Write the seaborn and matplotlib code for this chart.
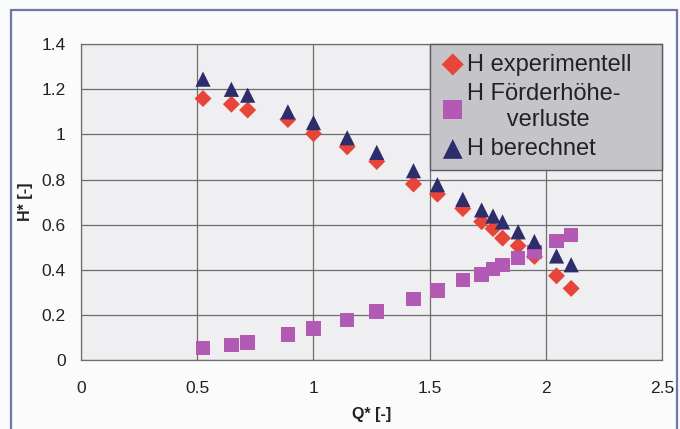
import numpy as np
import pandas as pd
import matplotlib
matplotlib.use("Agg")
import matplotlib.pyplot as plt
import seaborn as sns
from matplotlib.patches import Rectangle

# Messpunkte
q_stern = [0.525, 0.647, 0.717, 0.89, 1.0, 1.145, 1.272, 1.43, 1.533,
           1.642, 1.723, 1.772, 1.813, 1.88, 1.95, 2.045, 2.108]
h_experimentell = [1.159, 1.134, 1.108, 1.066, 1.003, 0.945, 0.88, 0.78, 0.735,
                   0.671, 0.613, 0.582, 0.54, 0.506, 0.459, 0.373, 0.317]
h_verluste = [0.052, 0.066, 0.078, 0.112, 0.14, 0.178, 0.215, 0.27, 0.307,
              0.354, 0.38, 0.403, 0.42, 0.451, 0.479, 0.527, 0.553]
h_berechnet = [1.245, 1.20, 1.174, 1.10, 1.052, 0.985, 0.92, 0.839, 0.777,
               0.712, 0.665, 0.638, 0.612, 0.568, 0.525, 0.461, 0.422]

x_ticks = [0, 0.5, 1, 1.5, 2, 2.5]
y_ticks = [0, 0.2, 0.4, 0.6, 0.8, 1, 1.2, 1.4]
x_ticklabels = ["0", "0.5", "1", "1.5", "2", "2.5"]
y_ticklabels = ["0", "0.2", "0.4", "0.6", "0.8", "1", "1.2", "1.4"]

sns.set_theme(style="white")
plt.rcParams["font.family"] = ["Liberation Sans", "DejaVu Sans"]

fig = plt.figure(figsize=(6.8, 4.29), dpi=100, facecolor="#fbfbfb")
ax = fig.add_axes([0.119, 0.161, 0.855, 0.736])
ax.set_facecolor("#efeff2")

df = pd.DataFrame({"Q": q_stern, "exp": h_experimentell,
                   "verl": h_verluste, "ber": h_berechnet})

sns.scatterplot(data=df, x="Q", y="exp", ax=ax, marker="D", s=75,
                color="#e8453a", edgecolor="none", label="H experimentell", zorder=3)
sns.scatterplot(data=df, x="Q", y="verl", ax=ax, marker="s", s=110,
                color="#b35ab5", edgecolor="none", label="H Förderhöhe-\n      verluste", zorder=3)
sns.scatterplot(data=df, x="Q", y="ber", ax=ax, marker="^", s=120,
                color="#2c2d6a", edgecolor="none", label="H berechnet", zorder=4)

ax.set_xlim(0, 2.5)
ax.set_ylim(0, 1.4)
ax.set_xticks(x_ticks)
ax.set_xticklabels(x_ticklabels)
ax.set_yticks(y_ticks)
ax.set_yticklabels(y_ticklabels)
ax.grid(True, color="#6e6e6e", linewidth=0.9)
ax.set_axisbelow(True)
for sp in ax.spines.values():
    sp.set_color("#6e6e6e")
    sp.set_linewidth(0.9)
ax.tick_params(axis="both", which="both", direction="out", length=5, width=0.9,
               color="#6e6e6e", labelsize=12.5, labelcolor="#222222", pad=6)
ax.tick_params(axis="x", pad=10)
ax.set_xlabel("Q* [-]", fontsize=11.5, fontweight="bold", color="#222222", labelpad=8)
ax.set_ylabel("H* [-]", fontsize=11.5, fontweight="bold", color="#222222", labelpad=6)

leg = ax.legend(loc="upper left", bbox_to_anchor=(0.601, 0.0, 0.399, 1.0),
                mode="expand", borderaxespad=0,
                frameon=True, fancybox=False, fontsize=17, handletextpad=0.05,
                labelspacing=0.32, handlelength=1.1, borderpad=0.4,
                markerscale=1.3, alignment="left")
leg.get_frame().set_facecolor("#c5c5c9")
leg.get_frame().set_edgecolor("#5a5a60")
leg.get_frame().set_linewidth(1.0)
leg.get_frame().set_alpha(1)
for t in leg.get_texts():
    t.set_color("#222222")

# Rahmen um das Diagramm
fig.patches.append(Rectangle((11 / 680, -0.05), 666 / 680, 1.05 - 10 / 429,
                             transform=fig.transFigure, fill=False,
                             edgecolor="#6b78a8", linewidth=1.6))

fig.savefig("out.png", dpi=100, facecolor=fig.get_facecolor())
